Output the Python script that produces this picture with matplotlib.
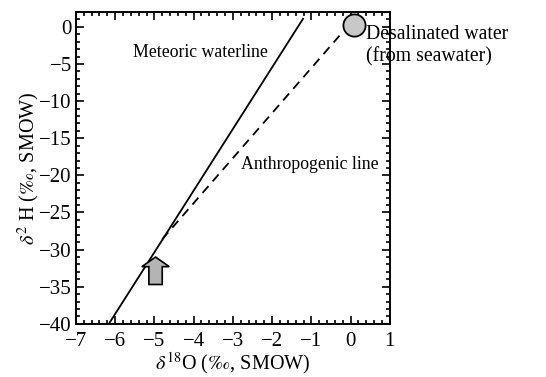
import matplotlib
matplotlib.use("Agg")
import matplotlib.pyplot as plt
from matplotlib.ticker import MultipleLocator
from matplotlib.patches import FancyArrow

plt.rcParams['font.family'] = ['Liberation Serif', 'DejaVu Serif']
plt.rcParams['mathtext.fontset'] = 'stix'

# data
meteoric_x = [-6.16, -1.2]
meteoric_y = [-40.0, 1.2]
anthro_x = [-4.8, -0.22]
anthro_y = [-28.6, -0.8]
desal_x = [0.08]
desal_y = [0.3]
arrow_x = -4.97
arrow_y0 = -34.7
arrow_y1 = -31.0

fig = plt.figure(figsize=(5.46, 3.77), dpi=100)
ax = fig.add_axes([0.139, 0.141, 0.575, 0.827])
ax.set_xlim(-7, 1)
ax.set_ylim(-40, 2)

ax.plot(meteoric_x, meteoric_y, color='black', lw=1.3, solid_capstyle='butt')
ax.plot(anthro_x, anthro_y, color='black', lw=1.3, dashes=(5, 3.5))
ax.plot(desal_x, desal_y, 'o', ms=16, mfc='#c8c8c8', mec='black', mew=1.3, clip_on=False, zorder=5)

arr = FancyArrow(arrow_x, arrow_y0, 0, arrow_y1 - arrow_y0, width=0.34, head_width=0.7,
                 head_length=1.3, length_includes_head=True, fc='#b4b4b4', ec='black', lw=1.2, zorder=4)
ax.add_patch(arr)

ax.text(-3.83, -3.5, 'Meteoric waterline', fontsize=12.8, ha='center', va='center')
ax.text(-1.03, -18.6, 'Anthropogenic line', fontsize=12.8, ha='center', va='center')
ax.text(0.4, -2.55, 'Desalinated water\n(from seawater)', fontsize=14.2, ha='left', va='center',
        clip_on=False, linespacing=1.22)

ax.xaxis.set_major_locator(MultipleLocator(1))
ax.xaxis.set_minor_locator(MultipleLocator(0.2))
ax.yaxis.set_major_locator(MultipleLocator(5))
ax.yaxis.set_minor_locator(MultipleLocator(1))
ax.tick_params(which='both', direction='in', top=True, right=True, labelsize=15, width=1.2)
ax.tick_params(which='major', length=6)
ax.tick_params(axis='y', which='major', pad=3)
ax.tick_params(axis='x', which='major', pad=6)
ax.tick_params(which='minor', length=3)
for s in ax.spines.values():
    s.set_linewidth(1.4)

ax.set_xlabel(r'$\delta^{18}$O ($\mathit{‰}$, SMOW)', fontsize=14.5, labelpad=-1)
ax.set_ylabel(r'$\delta^{2}$ H ($\mathit{‰}$, SMOW)', fontsize=14.5, labelpad=-2)

fig.savefig('out.png', dpi=100)
